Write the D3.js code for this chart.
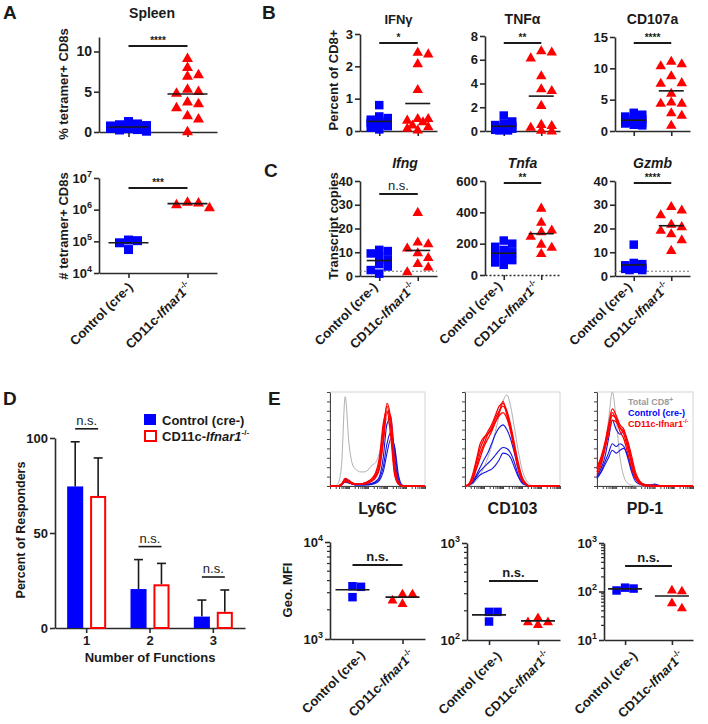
<!DOCTYPE html>
<html><head><meta charset="utf-8">
<script src="https://cdn.jsdelivr.net/npm/d3@7"></script>
<style>body{margin:0;background:#fff}svg{display:block}</style>
</head><body><script>
// ================= DATA =================
const groupNames = ["Control (cre-)", "CD11c-Ifnar1-/-"];

// Panel A – spleen
const spleenPctControl = [1.3,1.0,0.9,0.8,0.75,0.7,0.6,0.55,0.5,0.45,0.4,0.3,0.25,0.1];
const spleenPctCD11c   = [9.2,8.1,7.2,7.0,5.4,5.1,4.9,3.8,3.6,3.1,2.1,1.7,0.1];
const spleenPctTicks   = [0,5,10];
const spleenNumControl = [110000,105000,90000,55000];
const spleenNumCD11c   = [1800000,1200000,1500000,1700000];
const spleenNumTicks   = [1e4,1e5,1e6,1e7];

// Panel B – percent of CD8+
const ifngPctControl   = [0.8,0.45,0.4,0.35,0.3,0.3,0.25,0.2,0.2,0.15,0.1,0.05];
const ifngPctCD11c     = [2.45,2.4,2.1,1.3,0.4,0.4,0.35,0.3,0.2,0.15,0.1,0.05];
const tnfaPctControl   = [1.3,0.8,0.6,0.5,0.4,0.35,0.3,0.2,0.15,0.1,0.05,0.05];
const tnfaPctCD11c     = [6.8,6.7,6.2,4.7,3.6,3.45,2.2,0.6,0.5,0.35,0.1,0.05];
const cd107aPctControl = [2.9,2.6,2.3,2.0,1.9,1.7,1.5,1.4,1.3,1.2,1.0,0.9];
const cd107aPctCD11c   = [11.2,10.5,10.8,8.9,7.8,7.7,6.1,4.7,4.5,4.5,2.6,3.0,1.0];
const ifngPctTicks = [0,1,2,3], tnfaPctTicks = [0,2,4,6,8], cd107aPctTicks = [0,5,10,15];

// Panel C – transcript copies
const ifngCopiesControl = [11,10.5,9.5,8,7,5,4,2.5,1];
const ifngCopiesCD11c   = [27,13.8,14.5,12,10,8,5.5,4,2];
const tnfaCopiesControl = [220,200,180,160,145,130,115,95,80,65];
const tnfaCopiesCD11c   = [430,340,290,280,250,200,180,140];
const gzmbCopiesControl = [13.2,5.5,5,4.5,4,3.5,3,3,2.5,2.5];
const gzmbCopiesCD11c   = [29.5,26,28,22,21,18,19.5,15.5,11];
const copiesTicks40 = [0,10,20,30,40], copiesTicks600 = [0,200,400,600];
const detectionLimit = [2,0,2];

// Panel D – number of functions
const functionCategories   = ["1","2","3"];
const responderMeanControl = [74.5,20.5,6];
const responderErrControl  = [23.5,15.5,8.7];
const responderMeanCD11c   = [69.5,23,8.5];
const responderErrCD11c    = [20,11,11.5];
const responderTicks       = [0,50,100];

// Panel E – histograms (% of max, on a common bin grid, 0 = left edge, 1 = right edge)
const histBins = [0,0.04,0.08,0.12,0.16,0.2,0.24,0.28,0.32,0.36,0.4,0.44,0.48,0.52,0.56,0.6,0.64,0.68,0.72,0.76,0.8,0.84,0.88,0.92,0.96,1];
const ly6cTotal = [0,0,2,20,95,45,22,17,15,15,17,22,25,35,55,72,55,15,3,0,0,0,0,0,0,0];
const ly6cCD11c1 = [0,0,0,2,8,6,3,2,2,3,4,6,10,20,50,88,70,20,3,0,0,0,0,0,0,0];
const ly6cCD11c2 = [0,0,0,2,6,5,3,2,2,3,4,6,12,25,60,85,62,15,2,0,0,0,0,0,0,0];
const ly6cCD11c3 = [0,0,0,1,5,4,2,2,2,3,5,8,14,30,66,80,52,12,2,0,0,0,0,0,0,0];
const ly6cCD11c4 = [0,0,0,1,5,4,2,2,2,2,3,5,9,18,45,78,74,25,4,0,0,0,0,0,0,0];
const ly6cControl1 = [0,0,0,2,7,5,3,2,2,2,2,3,5,10,30,66,72,32,5,0,0,0,0,0,0,0];
const ly6cControl2 = [0,0,0,1,5,4,2,1,1,1,2,2,4,8,20,45,57,40,8,0,0,0,0,0,0,0];
const ly6cControl3 = [0,0,0,1,4,3,2,1,1,1,1,2,3,6,15,35,50,42,12,1,0,0,0,0,0,0];
const cd103Total = [0,0,2,6,12,20,30,42,58,75,90,97,85,62,38,18,7,2,0,0,0,0,0,0,0,0];
const cd103CD11c1 = [0,2,10,25,40,50,58,65,75,85,88,80,65,45,25,10,3,0,0,0,0,0,0,0,0,0];
const cd103CD11c2 = [0,2,8,20,35,45,55,62,72,80,85,78,62,42,22,8,2,0,0,0,0,0,0,0,0,0];
const cd103CD11c3 = [0,1,6,18,30,42,50,58,68,78,90,76,60,40,20,7,2,0,0,0,0,0,0,0,0,0];
const cd103CD11c4 = [0,2,12,28,45,52,55,60,68,75,78,72,58,38,18,6,2,0,0,0,0,0,0,0,0,0];
const cd103Control1 = [0,1,5,12,20,28,35,45,55,62,65,60,50,35,18,6,2,0,0,0,0,0,0,0,0,0];
const cd103Control2 = [0,1,4,10,16,20,24,28,33,38,41,40,35,25,12,4,1,0,0,0,0,0,0,0,0,0];
const cd103Control3 = [0,1,3,8,12,14,16,18,22,28,35,34,30,20,10,3,1,0,0,0,0,0,0,0,0,0];
const pd1Total = [10,20,40,70,100,70,30,10,3,1,0,0,0,0,0,0,0,0,0,0,0,0,0,0,0,0];
const pd1CD11c1 = [20,30,45,65,82,75,65,60,45,28,12,5,2,1,1,1,0,0,0,0,0,0,0,0,0,0];
const pd1CD11c2 = [15,25,40,60,75,72,62,55,40,25,10,4,2,1,0,0,0,0,0,0,0,0,0,0,0,0];
const pd1CD11c3 = [18,28,42,62,78,70,58,50,35,20,8,3,1,0,0,0,0,0,0,0,0,0,0,0,0,0];
const pd1CD11c4 = [12,22,38,55,70,68,62,58,48,32,15,6,2,1,0,0,0,0,0,0,0,0,0,0,0,0];
const pd1Control1 = [10,18,30,50,70,60,55,58,45,25,10,4,2,1,1,2,1,0,0,0,0,0,0,0,0,0];
const pd1Control2 = [8,14,22,30,38,35,38,40,32,18,8,3,1,1,1,1,0,0,0,0,0,0,0,0,0,0];
const pd1Control3 = [10,15,25,35,45,42,45,42,30,15,5,2,1,0,0,0,0,0,0,0,0,0,0,0,0,0];

// Panel E – geometric MFI
const ly6cMfiControl  = [2700,3500,3450];
const ly6cMfiCD11c    = [2950,2350,2550,2950];
const cd103MfiControl = [195,155,195];
const cd103MfiCD11c   = [156,146,156,172];
const pd1MfiControl   = [120,105,115];
const pd1MfiCD11c     = [110,105,47,60];

// ================= DRAWING =================
const FONT = '"Liberation Sans", Arial, Helvetica, sans-serif';
const BLUE = "#0000ff", RED = "#ff0000", INK = "#1a1a1a", AX = "#2b2b2b";
const svg = d3.select("body").append("svg").attr("width",708).attr("height",724)
  .style("font-family",FONT).style("background","#fff");

function txt(x,y,s,o={}){
  const t = svg.append("text").attr("x",x).attr("y",y).text(s)
    .attr("font-size",o.size||13).attr("font-weight",o.weight||"bold")
    .attr("text-anchor",o.anchor||"start").attr("fill",o.fill||INK);
  if(o.italic) t.attr("font-style","italic");
  if(o.rotate!==undefined) t.attr("transform",`rotate(${o.rotate},${x},${y})`);
  return t;
}
function cdLabel(t,size,italic){
  t.append("tspan").text("CD11c-");
  t.append("tspan").attr("font-style",italic?"italic":"normal").text("Ifnar1");
  t.append("tspan").attr("font-size",size*0.62).attr("dy",-size*0.45).text("-/-");
}
function groupLabel(name,x,y,size){
  const t = svg.append("text").attr("transform",`translate(${x},${y}) rotate(-45)`)
    .attr("text-anchor","end").attr("font-size",size).attr("font-weight","bold").attr("fill",INK);
  if(name.startsWith("CD11c")) cdLabel(t,size,true); else t.text(name);
}
function styleAxis(a,size){
  a.attr("font-family",FONT);
  a.select(".domain").attr("stroke",AX).attr("stroke-width",1.6);
  a.selectAll(".tick line").attr("stroke",AX).attr("stroke-width",1.6);
  a.selectAll(".tick text").attr("fill",INK).attr("font-size",size).attr("font-weight","bold");
}
// deterministic, compact scatter-dot placement (GraphPad-like)
function swarm(vals,cx,y,size,maxHalf){
  const pts = vals.map(v=>({v,py:y(v)})).sort((a,b)=>b.v-a.v);
  const step=size*0.5, placed=[];
  const offs=[0];
  for(let k=1;k*step<=maxHalf+0.01;k++){offs.push(k*step,-k*step);}
  for(const p of pts){
    let best=null,bestCost=1e9;
    for(const off of offs){
      const px=cx+off;
      let cost=0;
      for(const q of placed){
        const ox=size*0.92-Math.abs(q.px-px), oy=size*0.8-Math.abs(q.py-p.py);
        if(ox>0&&oy>0) cost+=ox*oy;
      }
      cost+=Math.abs(off)*0.01;
      if(cost<bestCost-1e-9){bestCost=cost;best=px;}
    }
    p.px=best; placed.push(p);
  }
  return placed;
}

function scatter(o){
  const y = o.y;
  const x = d3.scalePoint().domain(groupNames).range([o.x0,o.x1]).padding(o.pad);
  const yb = y.range()[0];
  const ya = svg.append("g").attr("transform",`translate(${o.x0},0)`)
    .call(d3.axisLeft(y).tickValues(o.ticks).tickSize(5).tickSizeOuter(0).tickPadding(2)
      .tickFormat(o.log? (()=>"") : d3.format("d")));
  styleAxis(ya,o.tsize||13);
  if(o.log){
    ya.selectAll(".tick text").each(function(d){
      const t=d3.select(this).text(null);
      t.append("tspan").text("10");
      t.append("tspan").attr("dy",-6).attr("font-size",9).text(Math.round(Math.log10(d)));
    });
    if(o.minor){
      const [lo,hi]=y.domain();
      for(let e=Math.log10(lo);e<Math.log10(hi);e++)
        for(let m=2;m<10;m++){
          const yy=y(m*Math.pow(10,e));
          svg.append("line").attr("x1",o.x0-3).attr("x2",o.x0).attr("y1",yy).attr("y2",yy)
            .attr("stroke",AX).attr("stroke-width",1.2);
        }
    }
  }
  const xa = svg.append("g").attr("transform",`translate(0,${yb})`)
    .call(d3.axisBottom(x).tickSize(5).tickSizeOuter(0).tickFormat(""));
  styleAxis(xa,13);
  if(o.lod!==undefined){
    if(o.lod===0) xa.select(".domain").attr("stroke-dasharray","2,2").attr("stroke-width",1.4);
    else svg.append("line").attr("x1",o.x0).attr("x2",o.x1).attr("y1",y(o.lod)).attr("y2",y(o.lod))
      .attr("stroke","#777").attr("stroke-width",1.2).attr("stroke-dasharray","2,2");
  }
  const sets=[[o.ctrl,BLUE,d3.symbolSquare,o.sq*o.sq],[o.ko,RED,d3.symbolTriangle,o.tri*o.tri*Math.sqrt(3)/4]];
  sets.forEach(([vals,col,sym,area],i)=>{
    const cx=x(groupNames[i]);
    const pts=swarm(vals,cx,y,i?o.tri:o.sq,o.spread);
    svg.append("g").selectAll("path").data(pts).join("path")
      .attr("d",d3.symbol(sym,area)).attr("fill",col)
      .attr("transform",d=>`translate(${d.px},${d.py+(i?1:0)})`);
    const m=d3.mean(vals);
    svg.append("line").attr("x1",cx-o.mh).attr("x2",cx+o.mh).attr("y1",y(m)).attr("y2",y(m))
      .attr("stroke",INK).attr("stroke-width",1.6);
  });
  const g1=x(groupNames[0]), g2=x(groupNames[1]);
  svg.append("line").attr("x1",g1).attr("x2",g2).attr("y1",o.sigY).attr("y2",o.sigY)
    .attr("stroke",INK).attr("stroke-width",1.8);
  const ns=o.sig==="n.s.";
  txt((g1+g2)/2,o.sigY-(ns?4:2),o.sig,{anchor:"middle",size:ns?13:10,weight:(ns&&!o.sigBold)?"normal":"bold"});
  if(o.title) txt(o.titleX||(o.x0+o.x1)/2,o.titleY,o.title,{anchor:"middle",size:o.titleSize||14,italic:o.titleItalic});
  if(o.labels){
    groupLabel(groupNames[0],g1+o.labels[0],yb+o.labels[1],13);
    groupLabel(groupNames[1],g2+o.labels[0],yb+o.labels[1],13);
  }
}

// ---- Panel letters
txt(3,19,"A",{size:19}); txt(262,19,"B",{size:19}); txt(264,177,"C",{size:19});
txt(3,405,"D",{size:19}); txt(268,405,"E",{size:19});

// ---- Panel A
scatter({x0:99,x1:217,pad:0.5,y:d3.scaleLinear().domain([0,11.8]).range([132,37]),ticks:spleenPctTicks,tsize:14,
  ctrl:spleenPctControl,ko:spleenPctCD11c,sq:9,tri:11,mh:20,spread:22,sig:"****",sigY:46,title:"Spleen",titleX:152,titleY:18});
txt(68,84,"% tetramer+ CD8s",{anchor:"middle",rotate:-90});
scatter({x0:99,x1:217,pad:0.5,y:d3.scaleLog().domain([1e4,1e7]).range([273,178]),ticks:spleenNumTicks,log:true,
  ctrl:spleenNumControl,ko:spleenNumCD11c,sq:9,tri:11,mh:20,spread:22,sig:"***",sigY:188,labels:[5,15]});
txt(68,226,"# tetramer+ CD8s",{anchor:"middle",rotate:-90});

// ---- Panel B
const bCommon={pad:0.5,sq:8.5,tri:10.5,mh:12.5,spread:11,sigY:43,titleY:24};
scatter({...bCommon,x0:360,x1:437,y:d3.scaleLinear().domain([0,3]).range([131,34]),ticks:ifngPctTicks,
  ctrl:ifngPctControl,ko:ifngPctCD11c,sig:"*",title:"IFNγ",titleSize:13});
scatter({...bCommon,x0:485,x1:560,y:d3.scaleLinear().domain([0,8]).range([131,36]),ticks:tnfaPctTicks,
  ctrl:tnfaPctControl,ko:tnfaPctCD11c,sig:"**",title:"TNFα"});
scatter({...bCommon,x0:615,x1:690,y:d3.scaleLinear().domain([0,15]).range([131,37]),ticks:cd107aPctTicks,
  ctrl:cd107aPctControl,ko:cd107aPctCD11c,sig:"****",title:"CD107a"});
txt(338,80,"Percent of CD8+",{anchor:"middle",rotate:-90});

// ---- Panel C
const cCommon={pad:0.5,sq:8.5,tri:10.5,mh:12.5,spread:11,titleY:168,titleItalic:true,labels:[-1,12]};
scatter({...cCommon,x0:360,x1:437,y:d3.scaleLinear().domain([0,40]).range([276,181]),ticks:copiesTicks40,
  ctrl:ifngCopiesControl,ko:ifngCopiesCD11c,sig:"n.s.",sigY:194,title:"Ifng",titleX:405,lod:detectionLimit[0]});
scatter({...cCommon,x0:485,x1:560,y:d3.scaleLinear().domain([0,600]).range([275,181]),ticks:copiesTicks600,
  ctrl:tnfaCopiesControl,ko:tnfaCopiesCD11c,sig:"**",sigY:183,title:"Tnfa",lod:detectionLimit[1]});
scatter({...cCommon,x0:615,x1:690,y:d3.scaleLinear().domain([0,40]).range([276,181]),ticks:copiesTicks40,
  ctrl:gzmbCopiesControl,ko:gzmbCopiesCD11c,sig:"****",sigY:183,title:"Gzmb",lod:detectionLimit[2]});
txt(338,226,"Transcript copies",{anchor:"middle",rotate:-90});

// ---- Panel D
{
  const xD=d3.scaleBand().domain(functionCategories).range([55,245]);
  const xSub=d3.scaleBand().domain(["c","k"]).range([-19.5,19.5]).paddingInner(0.3);
  const yD=d3.scaleLinear().domain([0,100]).range([628,438]);
  const ya=svg.append("g").attr("transform","translate(55,0)")
    .call(d3.axisLeft(yD).tickValues(responderTicks).tickSize(5).tickSizeOuter(0).tickPadding(2));
  styleAxis(ya,13);
  const xa=svg.append("g").attr("transform","translate(0,628)")
    .call(d3.axisBottom(xD).tickSize(5).tickSizeOuter(0).tickPadding(3));
  styleAxis(xa,13);
  const series=[["c",responderMeanControl,responderErrControl],["k",responderMeanCD11c,responderErrCD11c]];
  functionCategories.forEach((cat,i)=>{
    const cc=xD(cat)+xD.bandwidth()/2;
    let top=1e9;
    series.forEach(([k,means,errs])=>{
      const bx=cc+xSub(k), bw=xSub.bandwidth(), cx=bx+bw/2;
      const ym=yD(means[i]), ye=yD(means[i]+errs[i]);
      top=Math.min(top,ye);
      svg.append("line").attr("x1",cx).attr("x2",cx).attr("y1",ym).attr("y2",ye).attr("stroke",INK).attr("stroke-width",1.6);
      svg.append("line").attr("x1",cx-4.5).attr("x2",cx+4.5).attr("y1",ye).attr("y2",ye).attr("stroke",INK).attr("stroke-width",1.6);
      if(k==="c") svg.append("rect").attr("x",bx).attr("y",ym).attr("width",bw).attr("height",yD(0)-ym).attr("fill",BLUE);
      else svg.append("rect").attr("x",bx+1).attr("y",ym+1).attr("width",bw-2).attr("height",yD(0)-ym-1)
        .attr("fill","#fff").attr("stroke",RED).attr("stroke-width",2);
    });
    const c1=cc+xSub("c")+xSub.bandwidth()/2, c2=cc+xSub("k")+xSub.bandwidth()/2;
    svg.append("line").attr("x1",c1).attr("x2",c2).attr("y1",top-13).attr("y2",top-13).attr("stroke",INK).attr("stroke-width",1.6);
    txt((c1+c2)/2,top-17,"n.s.",{anchor:"middle",weight:"normal"});
  });
  txt(150,662,"Number of Functions",{anchor:"middle"});
  txt(25,530,"Percent of Responders",{anchor:"middle",rotate:-90,size:12.5});
  svg.append("rect").attr("x",144).attr("y",414).attr("width",12).attr("height",11).attr("fill",BLUE);
  svg.append("rect").attr("x",145).attr("y",431).attr("width",11).attr("height",10).attr("fill","#fff").attr("stroke",RED).attr("stroke-width",2);
  txt(162,424.5,"Control (cre-)");
  cdLabel(txt(162,441,""),13,true);
}

// ---- Panel E histograms
const histPanels=[
  {name:"Ly6C",x0:330,x1:425,total:ly6cTotal,ctrl:[ly6cControl1,ly6cControl2,ly6cControl3],ko:[ly6cCD11c1,ly6cCD11c2,ly6cCD11c3,ly6cCD11c4]},
  {name:"CD103",x0:465,x1:560,total:cd103Total,ctrl:[cd103Control1,cd103Control2,cd103Control3],ko:[cd103CD11c1,cd103CD11c2,cd103CD11c3,cd103CD11c4]},
  {name:"PD-1",x0:597,x1:693,total:pd1Total,ctrl:[pd1Control1,pd1Control2,pd1Control3],ko:[pd1CD11c1,pd1CD11c2,pd1CD11c3,pd1CD11c4]}
];
histPanels.forEach(p=>{
  const xs=d3.scaleLinear().domain([0,1]).range([p.x0,p.x1]);
  const ys=d3.scaleLinear().domain([0,100]).range([486,392]);
  svg.append("rect").attr("x",p.x0).attr("y",392).attr("width",p.x1-p.x0).attr("height",94)
    .attr("fill","none").attr("stroke","#d4d4d4").attr("stroke-width",1);
  const la=svg.append("g").attr("transform",`translate(${p.x0},0)`)
    .call(d3.axisLeft(ys).ticks(10).tickSize(3).tickSizeOuter(0).tickFormat(""));
  la.select(".domain").attr("stroke","#444").attr("stroke-width",1);
  la.selectAll(".tick line").attr("stroke","#444");
  const xl=d3.scaleLog().domain([1,1e5]).range([p.x0,p.x1]);
  const ba=svg.append("g").attr("transform","translate(0,486)")
    .call(d3.axisBottom(xl).tickSize(3).tickSizeOuter(0).tickFormat(""));
  ba.select(".domain").attr("stroke","#444").attr("stroke-width",1);
  ba.selectAll(".tick line").attr("stroke","#444");
  const line=d3.line().x((d,i)=>xs(histBins[i])).y(d=>ys(d)).curve(d3.curveMonotoneX);
  svg.append("path").attr("d",line(p.total)).attr("fill","none").attr("stroke","#b0b0b0").attr("stroke-width",1);
  p.ctrl.forEach(c=>svg.append("path").attr("d",line(c)).attr("fill","none").attr("stroke","#1515dd").attr("stroke-width",1.1));
  p.ko.forEach(c=>svg.append("path").attr("d",line(c)).attr("fill","none").attr("stroke",RED).attr("stroke-width",1.3));
  txt((p.x0+p.x1)/2,514,p.name,{anchor:"middle",size:16});
});
{
  const t1=txt(628,405,"Total CD8",{size:9,fill:"#9a9a9a"});
  t1.append("tspan").attr("dy",-3).attr("font-size",6.5).text("+");
  txt(628,416,"Control (cre-)",{size:9,fill:BLUE});
  cdLabel(txt(628,427,"",{size:9,fill:RED}),9,false);
}

// ---- Panel E MFI
const eCommon={pad:0.45,log:true,minor:true,sq:8.5,tri:10,mh:17,spread:14,sig:"n.s.",sigBold:true,labels:[13,17]};
scatter({...eCommon,x0:330,x1:425,y:d3.scaleLog().domain([1e3,1e4]).range([639,542]),ticks:[1e3,1e4],
  ctrl:ly6cMfiControl,ko:ly6cMfiCD11c,sigY:565});
scatter({...eCommon,x0:467,x1:560,y:d3.scaleLog().domain([1e2,1e3]).range([640,543]),ticks:[1e2,1e3],
  ctrl:cd103MfiControl,ko:cd103MfiCD11c,sigY:581});
scatter({...eCommon,x0:604,x1:693,y:d3.scaleLog().domain([1e1,1e3]).range([640,543]),ticks:[1e1,1e2,1e3],
  ctrl:pd1MfiControl,ko:pd1MfiCD11c,sigY:566});
txt(292,590,"Geo. MFI",{anchor:"middle",rotate:-90});
</script></body></html>
